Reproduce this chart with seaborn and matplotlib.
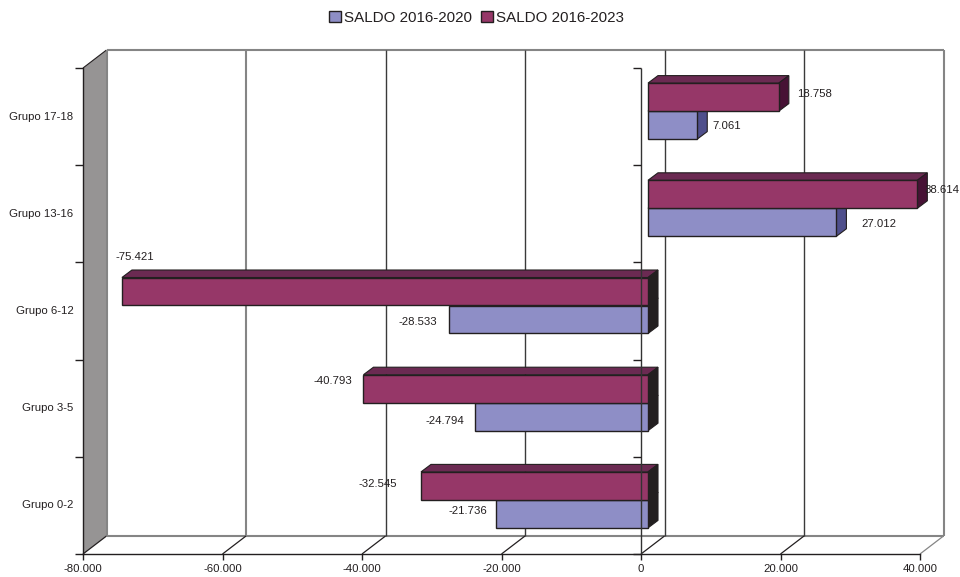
import matplotlib
matplotlib.use("Agg")
import matplotlib.pyplot as plt
import pandas as pd
import seaborn as sns
from matplotlib.patches import Patch, Polygon
from matplotlib.transforms import Affine2D, IdentityTransform

# Data
groups = ["Grupo 17-18", "Grupo 13-16", "Grupo 6-12", "Grupo 3-5", "Grupo 0-2"]
saldo_2020 = [7061, 27012, -28533, -24794, -21736]
saldo_2023 = [18758, 38614, -75421, -40793, -32545]
x_ticks = [-80000, -60000, -40000, -20000, 0, 20000, 40000]

df = pd.DataFrame({
    "grupo": groups * 2,
    "saldo": saldo_2023 + saldo_2020,
    "serie": ["SALDO 2016-2023"] * 5 + ["SALDO 2016-2020"] * 5,
})

# Colours and the fake 3D depth (in pixels)
BLUE, BLUE_SIDE = "#8e8ec6", "#4f4f8c"
RED, RED_TOP, RED_SIDE = "#963768", "#6b2a52", "#471235"
NEG_SIDE = "#231f20"
DARK = "#231f20"
GREY = "#858585"
WALL_DX, WALL_DY = 23.5, 18
BAR_DX, BAR_DY = 7, 5.5
BAR_DEPTH_X, BAR_DEPTH_Y = 10, 7.5


def fmt(v):
    return f"{v:,.0f}".replace(",", ".")


sns.set_style("white")
plt.rcParams["font.family"] = ["Liberation Sans", "DejaVu Sans"]

fig = plt.figure(figsize=(9.6, 5.77), dpi=100)
ax = fig.add_axes([83 / 960, 23 / 577, 837 / 960, 486 / 577])
ax.patch.set_alpha(0)

sns.barplot(data=df, y="grupo", x="saldo", hue="serie", order=groups,
            hue_order=["SALDO 2016-2023", "SALDO 2016-2020"],
            palette=[RED, BLUE], saturation=1, width=0.576, orient="h",
            edgecolor=DARK, linewidth=1, legend=False, ax=ax)

ax.set_xlim(-80000, 40000)
ax.set_ylim(4.5, -0.5)
ax.set_xlabel("")
ax.set_ylabel("")
ax.set_xticks(x_ticks, [fmt(t) for t in x_ticks])
# labels sit a hair above the band centre
ax.set_yticks([i - 0.01 for i in range(5)], groups)
ax.set_yticks([i - 0.5 for i in range(6)], minor=True)
ax.tick_params(axis="y", which="major", length=0, pad=7, labelsize=8.2, labelcolor=DARK)
ax.tick_params(axis="y", which="minor", left=True, length=6, width=1, color=DARK)
ax.tick_params(axis="x", bottom=True, length=4.5, width=1, color=DARK, pad=3,
               labelsize=8.2, labelcolor=DARK)
sns.despine(ax=ax)
for side in ["left", "bottom"]:
    ax.spines[side].set_color(DARK)
    ax.spines[side].set_linewidth(1)

fig.canvas.draw()
to_px = ax.transData.transform
pix = IdentityTransform()


def add_poly(points, color, z, edge=DARK, lw=0.8):
    ax.add_patch(Polygon(points, closed=True, facecolor=color, edgecolor=edge,
                         linewidth=lw, transform=pix, clip_on=False, zorder=z))


def add_line(p0, p1, color, lw, z):
    ax.plot([p0[0], p1[0]], [p0[1], p1[1]], color=color, lw=lw, transform=pix,
            clip_on=False, zorder=z, solid_capstyle="butt")


# Walls, floor and gridlines, built from the axis scales
x_lo, x_hi = ax.get_xlim()
y_bot, y_top = ax.get_ylim()
(fl, fb), (fr, ft) = to_px([(x_lo, y_bot), (x_hi, y_top)])
add_poly([(fl, fb), (fl + WALL_DX, fb + WALL_DY), (fl + WALL_DX, ft + WALL_DY), (fl, ft)],
         "#969494", 0.5, edge="none")
add_line((fl + WALL_DX, ft + WALL_DY), (fr + WALL_DX, ft + WALL_DY), GREY, 1.5, 1)
add_line((fl + WALL_DX, fb + WALL_DY), (fr + WALL_DX, fb + WALL_DY), GREY, 1.5, 1)
add_line((fl, ft), (fl + WALL_DX, ft + WALL_DY), DARK, 0.8, 1)
for t in x_ticks:
    px = to_px((t, y_bot))[0]
    grid_color = GREY if t in (-80000, -60000, 40000) else "#3a3a3a"
    grid_lw = 1.5 if t in (-80000, -60000, 40000) else 1
    add_line((px + WALL_DX, fb + WALL_DY), (px + WALL_DX, ft + WALL_DY), grid_color, grid_lw, 1)
    add_line((px, fb), (px + WALL_DX, fb + WALL_DY), GREY if t == 40000 else DARK, 0.9, 1)

# Shift the bars off the front plane and give them sides and tops
shift = ax.transData + Affine2D().translate(BAR_DX, BAR_DY)
bar_ends = {}
styles = [(RED, RED_TOP, RED_SIDE, 6), (BLUE, BLUE, BLUE_SIDE, 4)]
for cont, (face, top_col, side_col, z) in zip(ax.containers, styles):
    for bar, val in zip(cont.patches, cont.datavalues):
        bar.set_transform(shift)
        bar.set_zorder(z + 0.5)
        bar.set_clip_on(False)
        # negative bars have a negative width, so sort the corners
        (xa, y0), (xb, y1) = shift.transform([
            (bar.get_x(), bar.get_y() + bar.get_height()),
            (bar.get_x() + bar.get_width(), bar.get_y()),
        ])
        x0, x1 = min(xa, xb), max(xa, xb)
        add_poly([(x0, y1), (x0 + BAR_DEPTH_X, y1 + BAR_DEPTH_Y),
                  (x1 + BAR_DEPTH_X, y1 + BAR_DEPTH_Y), (x1, y1)], top_col, z)
        side = NEG_SIDE if val < 0 else side_col
        add_poly([(x1, y0), (x1 + BAR_DEPTH_X, y0 + BAR_DEPTH_Y),
                  (x1 + BAR_DEPTH_X, y1 + BAR_DEPTH_Y), (x1, y1)], side, z)
        bar_ends[val] = (x0 if val < 0 else x1, (y0 + y1) / 2)

# Zero axis with its ticks, drawn over the bars
zero = to_px((0, y_bot))[0]
add_line((zero, fb), (zero, ft), "#333333", 1, 8)
for i in range(6):
    y = to_px((0, i - 0.5))[1]
    add_line((zero - 8.5, y), (zero, y), DARK, 1, 8)

# Data labels: horizontal and vertical pixel offset from each bar end
label_offsets = {
    18758: (18, 3), 7061: (15, -1), 38614: (7, 4), 27012: (25, -2),
    -75421: (32, 35), -28533: (-12, -3), -40793: (-11, 8), -24794: (-11, -4), -32545: (-24, 2),
    -21736: (-9, 3),
}
for val, (dx, dy) in label_offsets.items():
    ex, ey = bar_ends[val]
    ha = "right" if val < 0 else "left"
    ax.text(ex + dx, ey + dy, fmt(val), transform=pix, ha=ha, va="center",
            fontsize=8.2, color=DARK, zorder=9, clip_on=False)

# Legend in the series order of the original
handles = [Patch(facecolor=BLUE, edgecolor=DARK, label="SALDO 2016-2020"),
           Patch(facecolor=RED, edgecolor=DARK, label="SALDO 2016-2023")]
fig.legend(handles=handles, loc="upper center", bbox_to_anchor=(0.496, 1.005), ncol=2,
           frameon=False, fontsize=10.9, labelcolor=DARK, handlelength=0.8,
           handleheight=0.8, handletextpad=0.2, columnspacing=0.6)

fig.savefig("out.png", dpi=100, facecolor="white")
